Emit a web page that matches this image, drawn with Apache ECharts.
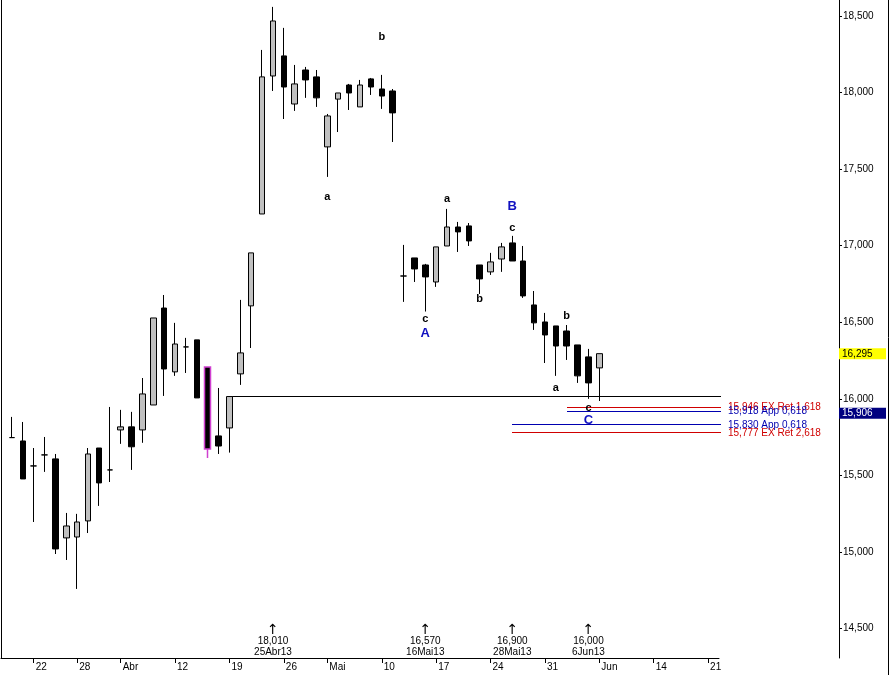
<!DOCTYPE html>
<html>
<head>
<meta charset="utf-8">
<script src="https://cdn.jsdelivr.net/npm/echarts@6/dist/echarts.min.js"></script>
<style>
html,body{margin:0;padding:0;background:#fff;}
#c{width:889px;height:675px;}
</style>
</head>
<body>
<div id="c"></div>
<script>
// ---- categories (trading days, Euronext calendar) ----
const categories = [
 '2013-03-19','2013-03-20','2013-03-21','2013-03-22','2013-03-25','2013-03-26','2013-03-27','2013-03-28',
 '2013-04-02','2013-04-03','2013-04-04','2013-04-05','2013-04-08','2013-04-09','2013-04-10','2013-04-11','2013-04-12',
 '2013-04-15','2013-04-16','2013-04-17','2013-04-18','2013-04-19','2013-04-22','2013-04-23','2013-04-24','2013-04-25','2013-04-26',
 '2013-04-29','2013-04-30','2013-05-02','2013-05-03','2013-05-06','2013-05-07','2013-05-08','2013-05-09','2013-05-10',
 '2013-05-13','2013-05-14','2013-05-15','2013-05-16','2013-05-17','2013-05-20','2013-05-21','2013-05-22','2013-05-23','2013-05-24',
 '2013-05-27','2013-05-28','2013-05-29','2013-05-30','2013-05-31','2013-06-03','2013-06-04','2013-06-05','2013-06-06','2013-06-07',
 '2013-06-10','2013-06-11','2013-06-12','2013-06-13','2013-06-14','2013-06-17','2013-06-18','2013-06-19','2013-06-20','2013-06-21',
 '2013-06-24'
];
const firstPriceDate = '2013-03-20';

// ---- OHLC values (one per trading day from firstPriceDate) ----
const openValues = [15747,15725,15562,15634,15608,15092,15098,15203,15679,15536,15797,15817,15797,15960,16593,16176,16339,16385,16208,15758,15810,
 16163,16607,17207,18108,18239,17925,18147,18102,17645,17957,18049,17906,18089,18023,18010,
 16802,16920,16874,16763,16998,17122,17129,16874,16829,16913,17018,16900,16613,16502,16476,16443,16352,16274,16202];
const closeValues = [15747,15477,15562,15634,15020,15170,15196,15640,15451,15536,15817,15687,16032,16528,16195,16358,16339,16006,15673,15692,16015,
 16300,16953,18102,18467,18036,18056,18082,17965,17847,17997,17997,18049,18036,17977,17867,
 16802,16848,16796,16992,17122,17090,17031,16783,16894,16992,16900,16672,16496,16417,16345,16345,16150,16104,16295];
const lowValues = [15747,15477,15196,15523,14987,14948,14759,15124,15301,15457,15706,15536,15713,15960,16019,16150,16169,16006,15614,15640,15649,
 16091,16332,17207,18010,17827,17880,17965,17906,17449,17742,17886,17906,17984,17893,17677,
 16633,16763,16570,16731,16998,16959,16998,16685,16809,16829,16900,16659,16450,16234,16150,16254,16104,16000,15986];
const highValues = [15882,15849,15679,15751,15640,15255,15249,15679,15679,15947,15928,15915,16136,16528,16678,16496,16398,16385,16208,16071,16015,
 16646,16953,18278,18559,18422,18180,18167,18147,17860,17997,18056,18082,18095,18115,18023,
 17005,16920,16881,16992,17240,17155,17148,16874,16953,17018,17064,16998,16704,16561,16476,16482,16352,16326,16295];
const highlightDates = ['2013-04-17'];

// ---- axis tick labels ----
const yTickValues = [14500,15000,15500,16000,16500,17000,17500,18000,18500];
const xTickDates = ['2013-03-22','2013-03-28','2013-04-05','2013-04-12','2013-04-19','2013-04-26','2013-05-03','2013-05-10','2013-05-17','2013-05-24','2013-05-31','2013-06-07','2013-06-14','2013-06-21'];
const xTickLabels = ['22','28','Abr','12','19','26','Mai','10','17','24','31','Jun','14','21'];
const monthNames = ['Jan','Fev','Mar','Abr','Mai','Jun','Jul','Ago','Set','Out','Nov','Dez'];

// ---- levels & annotations ----
const levelValues = [16015, 15946, 15918, 15830, 15777];
const levelNames = ['', 'EX Ret 1,618', 'App 0,618', 'App 0,618', 'EX Ret 2,618'];
const levelStarts = ['2013-04-19', '2013-06-04', '2013-06-04', '2013-05-28', '2013-05-28'];
const tagValue = 15906;
const lowMarkDates = ['2013-04-25', '2013-05-16', '2013-05-28', '2013-06-06'];
const waveDates = ['2013-05-10','2013-05-03','2013-05-20','2013-05-16','2013-05-16','2013-05-23','2013-05-28','2013-05-28','2013-06-04','2013-06-03','2013-06-06','2013-06-06'];
const waveValues = [18363,17318,17305,16522,16424,16652,17259,17116,16541,16071,15941,15862];
const waveTexts = ['b','a','a','c','A','b','B','c','b','a','c','C'];

// ---- build ----
const FONT = 'Liberation Sans, Arial, sans-serif';
const fmt = v => Math.round(v).toLocaleString('en-US');
const startIdx = categories.indexOf(firstPriceDate);
const lastIdx = categories.length - 1;
const candleData = categories.map((d, ci) => {
  const i = ci - startIdx;
  if (i < 0 || i >= openValues.length) return '-';
  const item = { value: [openValues[i], closeValues[i], lowValues[i], highValues[i]] };
  if (highlightDates.includes(d)) item.itemStyle = { borderColor: '#d040d0', borderColor0: '#d040d0', borderWidth: 1.5 };
  return item;
});
const lowOf = ci => lowValues[ci - startIdx];
const dateLabel = d => { const p = d.split('-'); return (+p[2]) + monthNames[+p[1] - 1] + p[0].slice(2); };
const lastClose = closeValues[closeValues.length - 1];
const crisp = v => Math.round(v - 0.5) + 0.5;

const RED = '#d00000', BLUE = '#0000b0';
const tickSet = new Set(xTickDates);
const yMin = 14308, yMax = 18604;

const option = {
  animation: false,
  backgroundColor: '#fff',
  grid: { left: 1, right: 167, top: 0, bottom: 17 },
  xAxis: {
    type: 'category', data: categories, boundaryGap: false,
    axisLine: { lineStyle: { color: '#000', width: 1 } },
    axisTick: { show: true, length: 5, interval: (i, v) => tickSet.has(v), lineStyle: { color: '#000' } },
    axisLabel: { interval: (i, v) => tickSet.has(v), formatter: v => xTickLabels[xTickDates.indexOf(v)],
      align: 'left', padding: [0, 0, 0, 2], margin: 4, color: '#000', fontSize: 10, fontFamily: FONT },
    splitLine: { show: false }
  },
  yAxis: [
    { type: 'value', position: 'right', offset: 120, min: yMin, max: yMax, scale: true,
      axisLine: { show: true, lineStyle: { color: '#000', width: 1 } },
      axisTick: { show: true, length: 3, customValues: yTickValues, lineStyle: { color: '#000' } },
      axisLabel: { customValues: yTickValues, formatter: v => fmt(v), margin: 4, color: '#000', fontSize: 10, fontFamily: FONT },
      splitLine: { show: false } },
    { type: 'value', position: 'left', min: yMin, max: yMax, scale: true,
      axisLine: { show: true, lineStyle: { color: '#000', width: 1 } },
      axisTick: { show: false }, axisLabel: { show: false }, splitLine: { show: false } },
    { type: 'value', position: 'right', offset: 120, min: yMin, max: yMax, scale: true,
      axisLine: { show: false }, axisTick: { show: false }, splitLine: { show: false },
      axisLabel: { customValues: [lastClose, tagValue], margin: 0, fontSize: 10, fontFamily: FONT,
        formatter: v => (v === lastClose ? '{y|' : '{n|') + fmt(v) + '}',
        rich: {
          y: { backgroundColor: '#ffff00', color: '#000', width: 41, padding: [1, 3, 0, 3], fontSize: 10, fontFamily: FONT },
          n: { backgroundColor: '#000080', color: '#fff', width: 41, padding: [1, 3, 0, 3], fontSize: 10, fontFamily: FONT }
        } } }
  ],
  graphic: [
    { type: 'line', shape: { x1: 888.5, y1: 0, x2: 888.5, y2: 675 }, style: { stroke: '#000', lineWidth: 1 } }
  ],
  series: [
    { type: 'candlestick', data: candleData, barWidth: 6,
      itemStyle: { color: '#c0c0c0', color0: '#000', borderColor: '#000', borderColor0: '#000', borderWidth: 1 } },
    // level lines with labels
    { type: 'custom', clip: false, silent: true,
      data: levelValues.map((v, k) => [levelStarts[k], v, k]),
      renderItem: (params, api) => {
        const k = api.value(2), v = api.value(1);
        const p0 = api.coord([api.value(0), v]);
        const p1 = api.coord([lastIdx, v]);
        const name = levelNames[k];
        const col = name === '' ? '#000' : (name.startsWith('EX') ? RED : BLUE);
        const y = crisp(p0[1]);
        const children = [{ type: 'line', shape: { x1: Math.round(p0[0]), y1: y, x2: Math.round(p1[0]) + 2, y2: y },
          style: { stroke: col, lineWidth: 1 } }];
        if (name) children.push({ type: 'text', x: p1[0] + 9, y: p0[1],
          style: { text: fmt(v) + ' ' + name, fill: col, font: '10px ' + FONT, align: 'left', verticalAlign: 'middle' } });
        return { type: 'group', children };
      } },
    // wave labels
    { type: 'custom', clip: false, silent: true,
      data: waveDates.map((d, k) => [d, waveValues[k], k]),
      renderItem: (params, api) => {
        const k = api.value(2);
        const p = api.coord([api.value(0), api.value(1)]);
        const t = waveTexts[k];
        const upper = t === t.toUpperCase();
        return { type: 'text', x: p[0], y: p[1],
          style: { text: t, fill: upper ? '#1010c0' : '#000', font: 'bold ' + (upper ? 13 : 11) + 'px ' + FONT,
                   align: 'center', verticalAlign: 'middle' } };
      } },
    // low markers
    { type: 'custom', clip: false, silent: true,
      data: lowMarkDates.map(d => [d, 14419, categories.indexOf(d)]),
      renderItem: (params, api) => {
        const ci = api.value(2);
        const p = api.coord([api.value(0), api.value(1)]);
        const st = (t, f) => ({ text: t, fill: '#000', font: f, align: 'center', verticalAlign: 'middle' });
        return { type: 'group', children: [
          { type: 'text', x: p[0], y: p[1] - 10.5, style: st('\u2191', '14px DejaVu Sans') },
          { type: 'text', x: p[0], y: p[1], style: st(fmt(lowOf(ci)), '10px ' + FONT) },
          { type: 'text', x: p[0], y: p[1] + 11.5, style: st(dateLabel(categories[ci]), '10px ' + FONT) }
        ] };
      } }
  ]
};
const chart = echarts.init(document.getElementById('c'), null, { renderer: 'canvas' });
chart.setOption(option);
</script>
</body>
</html>
